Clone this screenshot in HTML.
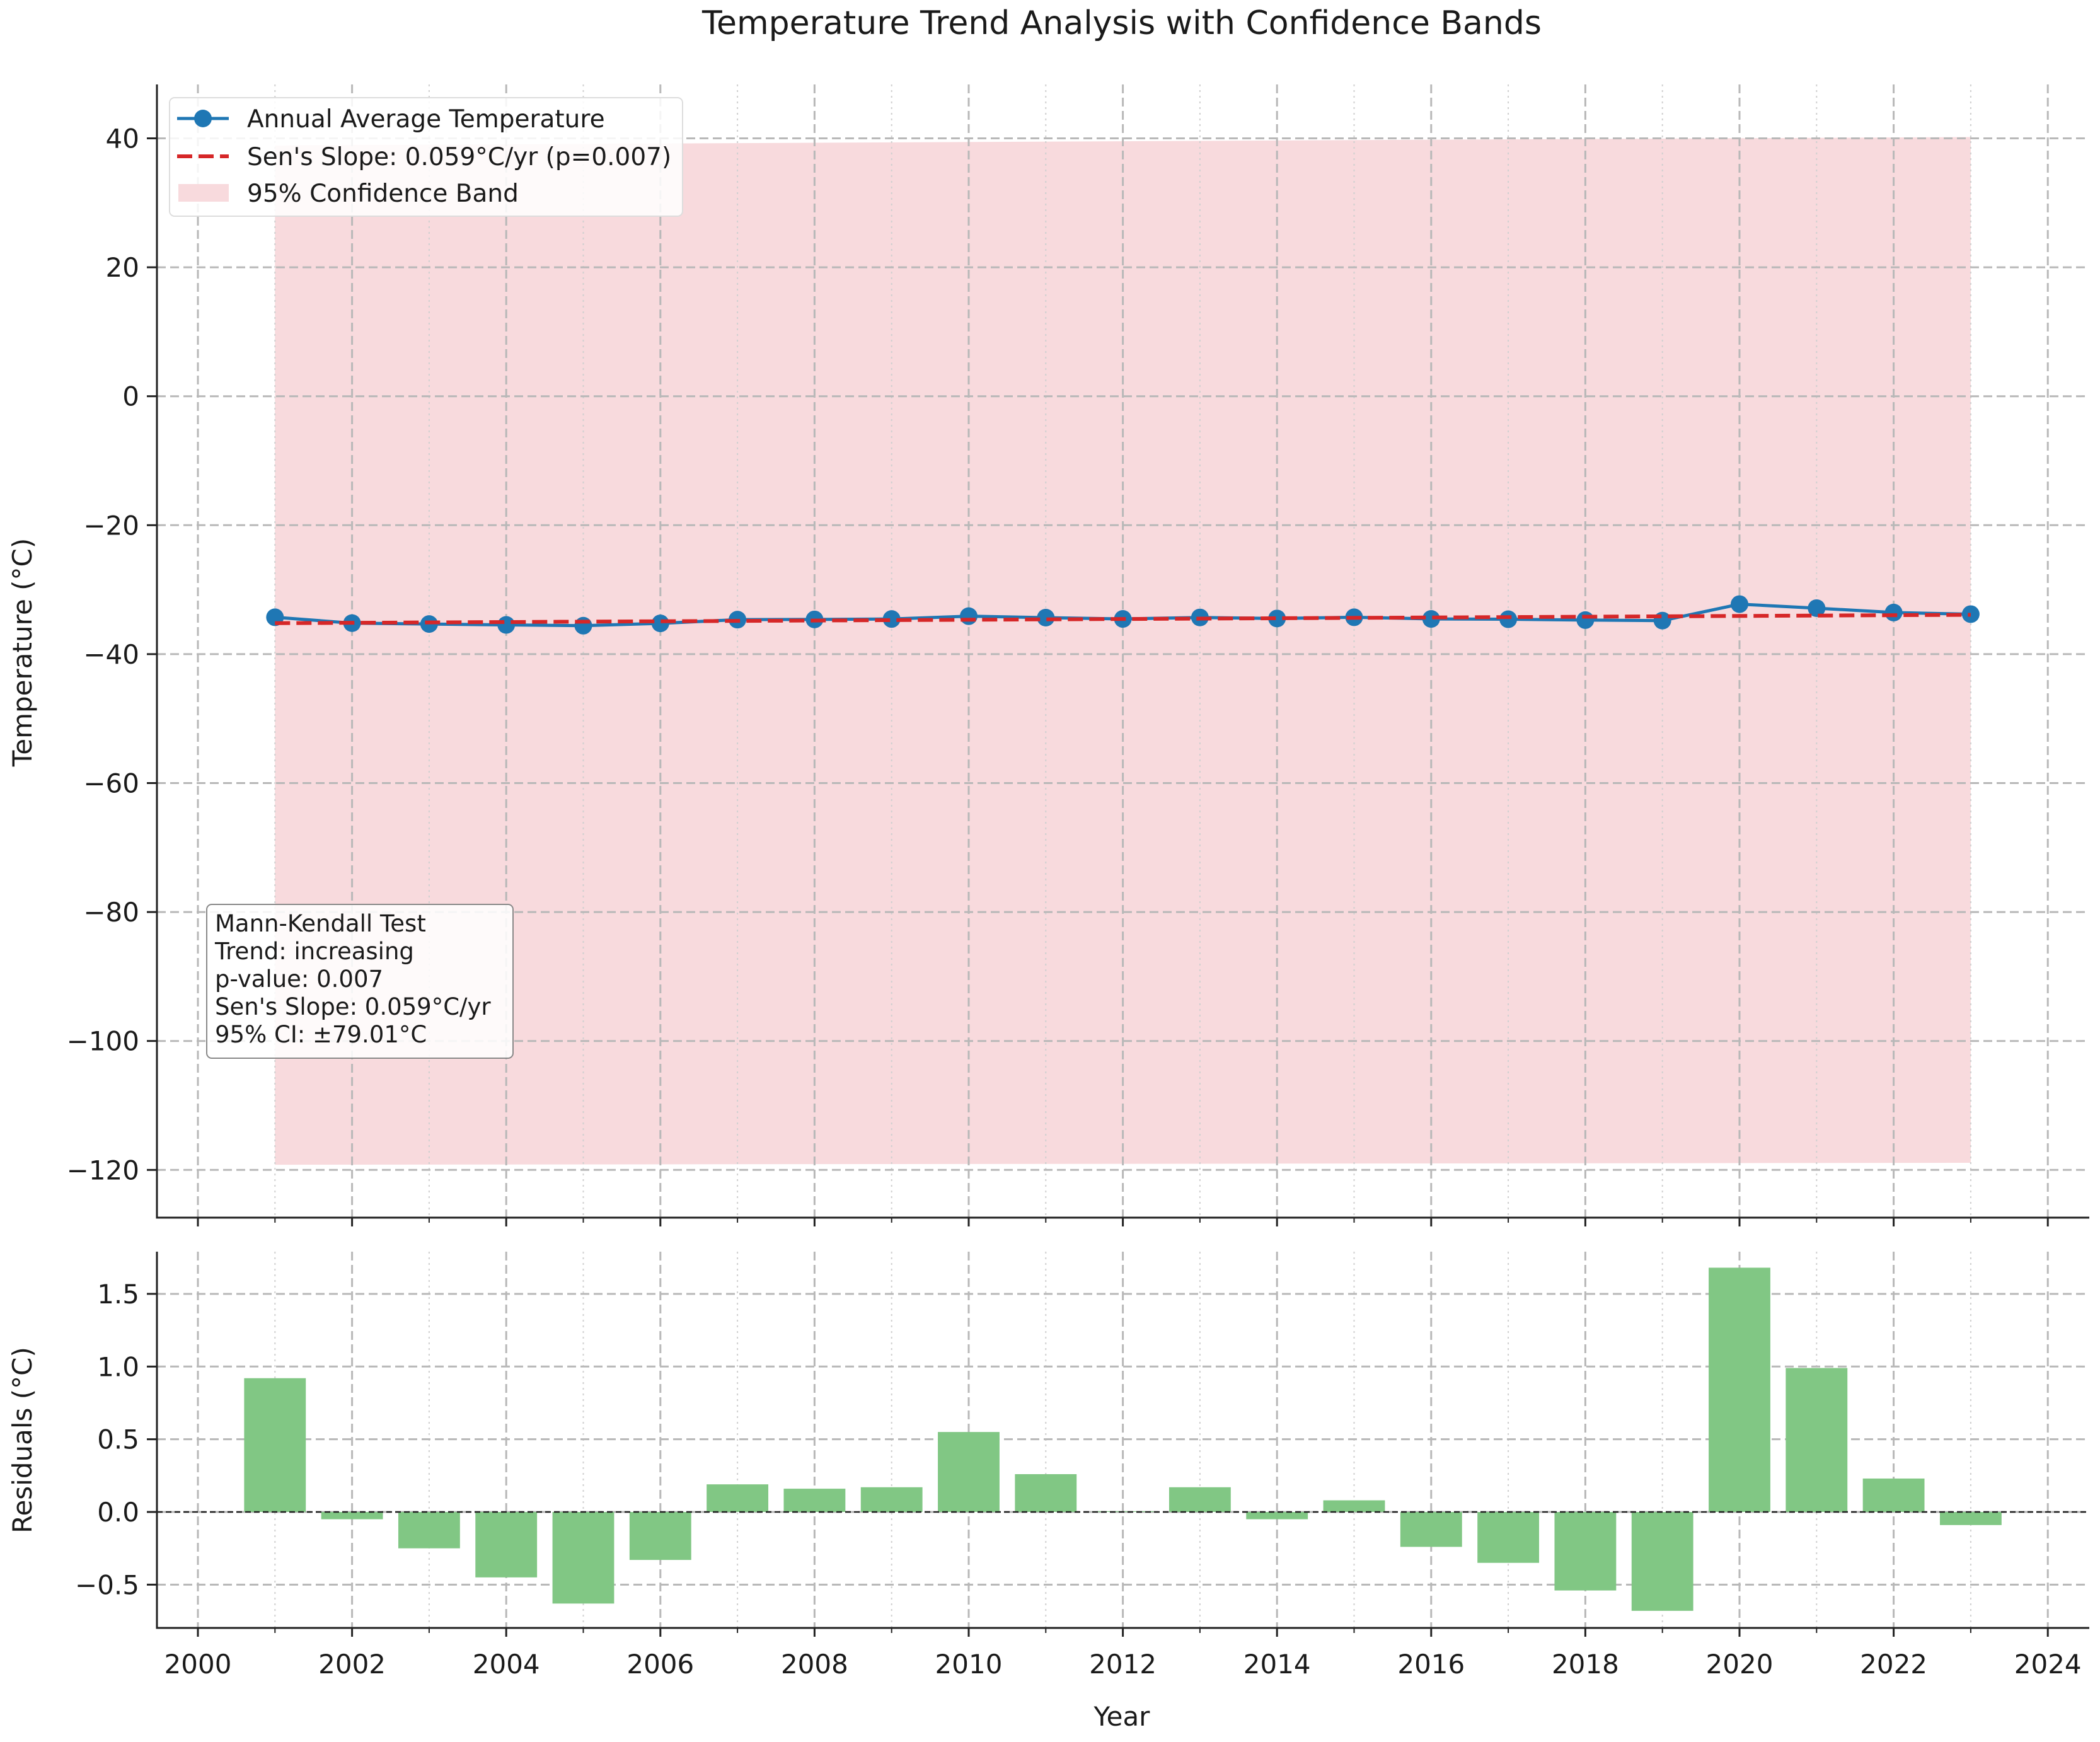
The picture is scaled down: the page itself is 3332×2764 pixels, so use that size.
<!DOCTYPE html>
<html><head><meta charset="utf-8">
<style>html,body{margin:0;padding:0;background:#fff}svg{display:block}text{font-family:"DejaVu Sans","Liberation Sans",sans-serif;fill:#1a1a1a}</style>
</head><body>
<svg id="chart" width="3332" height="2764" viewBox="0 0 3332 2764" xmlns="http://www.w3.org/2000/svg">
<text x="1780" y="54" font-size="52" text-anchor="middle">Temperature Trend Analysis with Confidence Bands</text>
<g id="topPanel"></g><g id="bottomPanel"></g>
<text transform="translate(50,1035) rotate(-90)" font-size="42" text-anchor="middle">Temperature (°C)</text>
<text transform="translate(50,2285) rotate(-90)" font-size="42" text-anchor="middle">Residuals (°C)</text>
<text x="1780" y="2738" font-size="42" text-anchor="middle">Year</text>
</svg>
<script>
const years=[2001,2002,2003,2004,2005,2006,2007,2008,2009,2010,2011,2012,2013,2014,2015,2016,2017,2018,2019,2020,2021,2022,2023];
const temps=[-34.28,-35.19,-35.33,-35.47,-35.59,-35.23,-34.65,-34.62,-34.55,-34.11,-34.34,-34.54,-34.31,-34.47,-34.28,-34.54,-34.59,-34.72,-34.80,-32.25,-32.87,-33.55,-33.80];
const residuals=[0.92,-0.05,-0.25,-0.45,-0.63,-0.33,0.19,0.16,0.17,0.55,0.26,0.005,0.17,-0.05,0.08,-0.24,-0.35,-0.54,-0.68,1.68,0.99,0.23,-0.09];
const trendStart=-35.2, slope=0.059;
const bandUpper=[38.9,40.2];
const bandLower=[-119.2,-118.9];
const topYTicks=[40,20,0,-20,-40,-60,-80,-100,-120];
const botYTicks=[1.5,1.0,0.5,0.0,-0.5];
const botYLabels=["1.5","1.0","0.5","0.0","\u22120.5"];
const xTicks=[2000,2002,2004,2006,2008,2010,2012,2014,2016,2018,2020,2022,2024];

const NS="http://www.w3.org/2000/svg";
const L=249,R=3315;
const x=v=>314+(v-2000)*122.3;
const yT=v=>219.5+(40-v)*10.23;
const yB=v=>2399-v*230.7;
function mk(p,tag,a){const e=document.createElementNS(NS,tag);for(const k in a)e.setAttribute(k,a[k]);p.appendChild(e);return e;}
const topG=document.getElementById('topPanel'),botG=document.getElementById('bottomPanel');
const minus=s=>String(s).replace('-','\u2212');

function grid(g,T,B,yTicks,yf){
  for(let yr=2001;yr<=2023;yr+=2){const e=mk(g,'line',{x1:x(yr),x2:x(yr),y1:T,y2:B,stroke:'#d0d0d0','stroke-width':2,'stroke-dasharray':'3,6'});
  
  }
  xTicks.forEach(t=>{const e=mk(g,'line',{x1:x(t),x2:x(t),y1:T,y2:B,stroke:'#b8b8b8','stroke-width':3,'stroke-dasharray':'14,7'});
  
  });
  yTicks.forEach(t=>{const e=mk(g,'line',{x1:L,x2:R,y1:yf(t),y2:yf(t),stroke:'#b8b8b8','stroke-width':3,'stroke-dasharray':'14,7'});
  
  });
}
function axes(g,T,B,yTicks,labels,yf,name){
  yTicks.forEach((t,i)=>{mk(g,'line',{x1:L-16,x2:L,y1:yf(t),y2:yf(t),stroke:'#222','stroke-width':3});
    const e=mk(g,'text',{x:L-28,y:yf(t)+15,'font-size':42,'text-anchor':'end'});e.textContent=labels[i];
    
    });
  xTicks.forEach(t=>mk(g,'line',{x1:x(t),x2:x(t),y1:B,y2:B+14,stroke:'#222','stroke-width':3}));
  for(let yr=2001;yr<=2023;yr+=2)mk(g,'line',{x1:x(yr),x2:x(yr),y1:B,y2:B+8,stroke:'#222','stroke-width':2});
  const a=mk(g,'path',{d:`M${L},${T}V${B}H${R}`,fill:'none',stroke:'#222','stroke-width':3});
  
  
}
// TOP PANEL
const T1=134,B1=1932;
const band=mk(topG,'polygon',{points:`${x(years[0])},${yT(bandUpper[0])} ${x(years[years.length-1])},${yT(bandUpper[1])} ${x(years[years.length-1])},${yT(bandLower[1])} ${x(years[0])},${yT(bandLower[0])}`,fill:'#f8dadd'});


grid(topG,T1,B1,topYTicks,yT);
axes(topG,T1,B1,topYTicks,topYTicks.map(minus),yT,'top');
const ln=mk(topG,'polyline',{points:years.map((yr,i)=>x(yr)+','+yT(temps[i])).join(' '),fill:'none',stroke:'#1f77b4','stroke-width':5});


years.forEach((yr,i)=>{const c=mk(topG,'circle',{cx:x(yr),cy:yT(temps[i]),r:14,fill:'#1f77b4'});
  
  });
const y0=years[0],y1=years[years.length-1];
const tr=mk(topG,'line',{x1:x(y0),y1:yT(trendStart),x2:x(y1),y2:yT(trendStart+slope*(y1-y0)),stroke:'#d62728','stroke-width':6,'stroke-dasharray':'24,10'});


// legend
const lg=mk(topG,'g',{});


mk(lg,'rect',{x:269,y:155,width:814,height:188,rx:8,fill:'#fff','fill-opacity':0.85,stroke:'#ddd','stroke-width':2});
mk(lg,'line',{x1:281,x2:363,y1:188,y2:188,stroke:'#1f77b4','stroke-width':5});
mk(lg,'circle',{cx:322,cy:188,r:14,fill:'#1f77b4'});
mk(lg,'line',{x1:281,x2:363,y1:248,y2:248,stroke:'#d62728','stroke-width':6,'stroke-dasharray':'24,10'});
mk(lg,'rect',{x:283,y:292,width:80,height:28,fill:'#f8dadd'});
[['Annual Average Temperature',188],["Sen's Slope: 0.059°C/yr (p=0.007)",248],['95% Confidence Band',306]].forEach(([t,yy])=>{
  const e=mk(lg,'text',{x:392,y:yy+14,'font-size':39});e.textContent=t;
  
  });
// stats box
const sb=mk(topG,'g',{});


mk(sb,'rect',{x:328,y:1435,width:486,height:244,rx:8,fill:'#fff','fill-opacity':0.85,stroke:'#888','stroke-width':2});
['Mann-Kendall Test','Trend: increasing','p-value: 0.007',"Sen's Slope: 0.059°C/yr",'95% CI: ±79.01°C'].forEach((t,i)=>{
  const e=mk(sb,'text',{x:341,y:1478+i*44,'font-size':37});e.textContent=t;
  
  });
// BOTTOM PANEL
const T2=1986,B2=2583;
grid(botG,T2,B2,botYTicks,yB);
years.forEach((yr,i)=>{const v=residuals[i];const r=mk(botG,'rect',{x:x(yr)-0.4*122.3,width:0.8*122.3,y:Math.min(yB(v),yB(0)),height:Math.abs(yB(v)-yB(0)),fill:'#81c784'});
  
  });
const z=mk(botG,'line',{x1:L,x2:R,y1:yB(0),y2:yB(0),stroke:'#222','stroke-width':2.5,'stroke-dasharray':'9,5'});


axes(botG,T2,B2,botYTicks,botYLabels,yB,'bottom');
xTicks.forEach(t=>{const e=mk(botG,'text',{x:x(t),y:2655,'font-size':42,'text-anchor':'middle'});e.textContent=t;
  
  });
</script>
</body></html>
